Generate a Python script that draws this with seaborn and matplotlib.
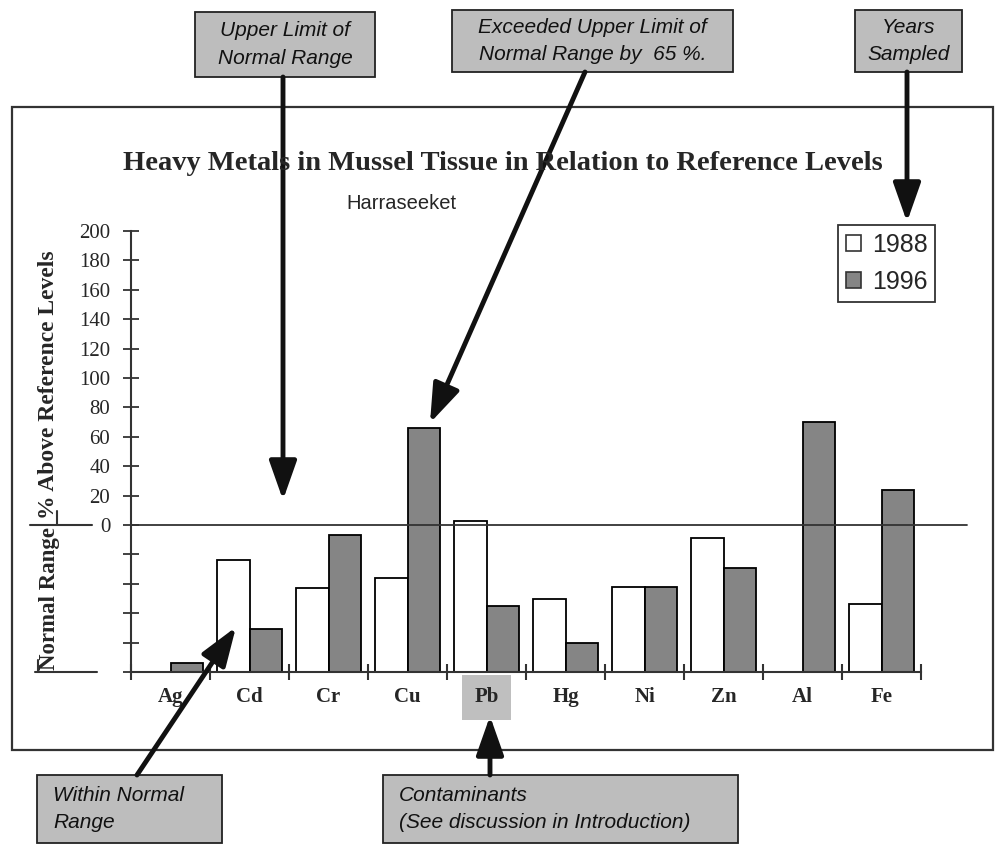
import numpy as np
import pandas as pd
import matplotlib
matplotlib.use("Agg")
import matplotlib.pyplot as plt
import seaborn as sns
from matplotlib.patches import Rectangle, Patch, FancyArrowPatch

# ---------------- data ----------------
metals = ["Ag", "Cd", "Cr", "Cu", "Pb", "Hg", "Ni", "Zn", "Al", "Fe"]
years = ["1988", "1996"]
# % above reference level (0 = upper limit of normal range, -100 = bottom of normal range)
pct_1988 = [np.nan, -24, -43, -36, 3, -50, -42, -9, np.nan, -54]
pct_1996 = [-94, -71, -7, 66, -55, -80, -42, -29, 70, 24]
ytick_vals = [0, 20, 40, 60, 80, 100, 120, 140, 160, 180, 200]
normal_ticks = [-20, -40, -60, -80, -100]
BASE = -100

df = pd.DataFrame({
    "metal": metals * 2,
    "year": ["1988"] * len(metals) + ["1996"] * len(metals),
    "pct": pct_1988 + pct_1996,
})
df["height"] = df["pct"] - BASE

W, H = 997, 846
sns.set_theme(style="white")
plt.rcParams["font.family"] = ["Liberation Serif", "DejaVu Sans"]

fig = plt.figure(figsize=(W / 100, H / 100), dpi=100)


def fx(x):
    return x / W


def fy(y):
    return 1 - y / H


def fig_line(xs, ys, lw=1.5):
    fig.add_artist(plt.Line2D([fx(v) for v in xs], [fy(v) for v in ys],
                              transform=fig.transFigure, color="#333333", lw=lw))


ax_l, ax_r, ax_t, ax_b = 131, 921, 231, 672
ax = fig.add_axes([fx(ax_l), fy(ax_b), fx(ax_r) - fx(ax_l), fy(ax_t) - fy(ax_b)])

year_colors = {"1988": "white", "1996": "#858585"}
sns.barplot(data=df, x="metal", y="height", hue="year", order=metals, hue_order=years,
            palette=year_colors, width=0.82,
            edgecolor="black", linewidth=1.3, bottom=BASE, ax=ax, errorbar=None,
            saturation=1, legend=False)

ax.set_ylim(BASE, 200)
ax.set_xlim(-0.5, len(metals) - 0.5)
ax.set_xlabel("")
ax.set_ylabel("")
for s in ["top", "right"]:
    ax.spines[s].set_visible(False)
for s in ["left", "bottom"]:
    ax.spines[s].set_color("#333333")
    ax.spines[s].set_linewidth(1.5)

ax.set_yticks(ytick_vals + normal_ticks)
ax.set_yticklabels([str(v) for v in ytick_vals] + [""] * len(normal_ticks),
                   fontsize=15, family="Liberation Serif")
ax.tick_params(axis="y", direction="inout", length=12, width=1.3, color="#333333", pad=9, left=True)

ax.set_xticks(range(len(metals)))
ax.set_xticklabels(metals, fontsize=15, fontweight="bold", family="Liberation Serif")
ax.tick_params(axis="x", length=0, pad=11)
ax.set_xticks(np.arange(-0.5, len(metals), 1.0), minor=True)
ax.tick_params(axis="x", which="minor", direction="inout", length=12, width=1.5,
               color="#333333", bottom=True)
for lbl in ax.get_xticklabels():
    if lbl.get_text() == "Pb":
        lbl.set_bbox(dict(facecolor="#bfbfbf", edgecolor="none", pad=9))

# upper-limit line
ax.axhline(0, xmin=0, xmax=(967 - ax_l) / (ax_r - ax_l), color="#333333", lw=1.3, clip_on=False)

# legend
handles = [Patch(facecolor=year_colors[y], edgecolor="#333333", lw=1.2) for y in years]
leg = ax.legend(handles, years, loc="upper left", bbox_to_anchor=(fx(838), fy(225)),
                bbox_transform=fig.transFigure, frameon=True, fancybox=False, edgecolor="#333333",
                prop={"family": "Liberation Sans", "size": 18}, handlelength=0.6, handleheight=0.6,
                handletextpad=0.45, borderpad=0.3, borderaxespad=0, labelspacing=0.55,
                framealpha=1)
leg.get_frame().set_linewidth(1.3)

# outer frame
fig.add_artist(Rectangle((fx(12), fy(750)), fx(993) - fx(12), fy(107) - fy(750),
                         transform=fig.transFigure, fill=False, edgecolor="#333333", lw=1.6))

# titles
fig.text(fx(503), fy(163), "Heavy Metals in Mussel Tissue in Relation to Reference Levels",
         ha="center", va="center", fontsize=20.5, fontweight="bold", family="Liberation Serif")
fig.text(fx(401), fy(203), "Harraseeket", ha="center", va="center", fontsize=14.5,
         family="Liberation Sans")

# y-axis labels
fig.text(fx(49), fy(385), "% Above Reference Levels", rotation=90, ha="center", va="center",
         fontsize=17, fontweight="bold", family="Liberation Serif")
fig.text(fx(49), fy(598), "Normal Range", rotation=90, ha="center", va="center",
         fontsize=16.5, fontweight="bold", family="Liberation Serif")
fig_line([30, 92], [525, 525])
fig_line([57, 57], [511, 525])
fig_line([35, 97], [672, 672])
fig_line([38, 38], [660, 672])

# callout boxes
callouts = [
    ((195, 12, 375, 77), "Upper Limit of\nNormal Range", "center"),
    ((452, 10, 733, 72), "Exceeded Upper Limit of\nNormal Range by  65 %.", "center"),
    ((855, 10, 962, 72), "Years\nSampled", "center"),
    ((37, 775, 222, 843), "Within Normal\nRange", "left"),
    ((383, 775, 738, 843), "Contaminants\n(See discussion in Introduction)", "left"),
]
for (x0, y0, x1, y1), txt, ha in callouts:
    fig.add_artist(Rectangle((fx(x0), fy(y1)), fx(x1) - fx(x0), fy(y0) - fy(y1),
                             transform=fig.transFigure, facecolor="#bdbdbd",
                             edgecolor="#222222", lw=1.3))
    tx = (x0 + x1) / 2 if ha == "center" else x0 + 16
    fig.text(fx(tx), fy((y0 + y1) / 2), txt, ha=ha, va="center", fontsize=15,
             style="italic", family="Liberation Sans", linespacing=1.55, color="#111111")

# arrows
arrow_kw = dict(arrowstyle="-|>,head_length=1.7,head_width=0.6", color="#111111", lw=3.5,
                shrinkA=0, shrinkB=0)
arrows = [
    ((283, 77), (283, 500)),
    ((585, 72), (430, 423)),
    ((907, 72), (907, 222)),
    ((137, 775), (236, 627)),
    ((490, 775), (490, 716)),
]
for (sx, sy), (tx, ty) in arrows:
    fig.add_artist(FancyArrowPatch((fx(sx), fy(sy)), (fx(tx), fy(ty)),
                                   transform=fig.transFigure, mutation_scale=14, **arrow_kw))

fig.savefig("out.png", dpi=100)
